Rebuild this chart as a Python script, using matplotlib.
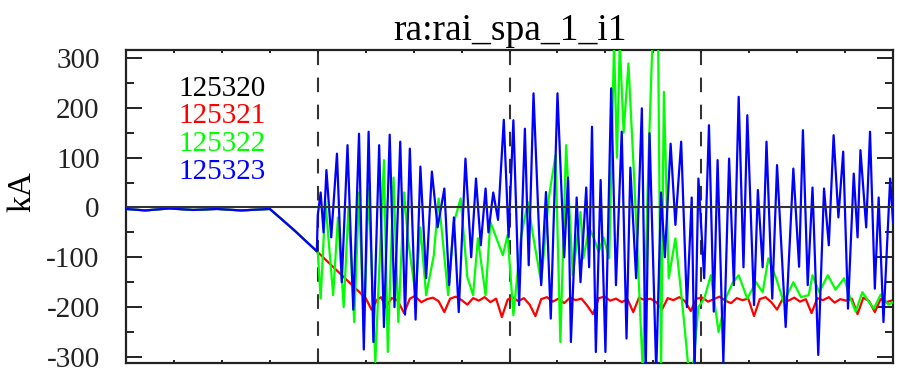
import matplotlib
matplotlib.use('Agg')
import matplotlib.pyplot as plt
from matplotlib.ticker import MultipleLocator

plt.rcParams['font.family'] = ['Liberation Serif', 'DejaVu Serif']
plt.rcParams['axes.unicode_minus'] = False

title = 'ra:rai_spa_1_i1'
shots = ['125320', '125321', '125322', '125323']
colors = ['black', '#ff0000', '#00ff00', '#0000ff']
markers_t = [200, 400, 600]

# flat part + ramp, same for 125321/22/23
pre_t = [0, 20, 45, 70, 95, 120, 150, 175, 199]
pre_v = [-3, -6, -2, -5, -3, -6, -3, -45, -88]

black_t = [0, 800]
black_v = [0, 0]

red_t = [250, 256, 262, 266, 271, 277, 283, 290, 296, 301,
         308, 314, 320, 326, 332, 338, 344, 350, 356, 362,
         368, 374, 380, 386, 392, 398, 403, 409, 415, 421,
         427, 433, 439, 445, 451, 457, 463, 469, 475, 481,
         487, 493, 499, 505, 511, 517, 523, 529, 535, 541,
         547, 553, 559, 565, 571, 577, 583, 589, 595, 601,
         607, 613, 619, 625, 631, 637, 643, 649, 655, 661,
         667, 673, 679, 685, 691, 697, 703, 709, 715, 721,
         727, 733, 739, 745, 751, 757, 763, 769, 775, 781,
         787, 793, 800]
red_v = [-182, -205, -185, -180, -200, -182, -186, -212, -183, -178,
         -190, -184, -181, -188, -210, -183, -179, -186, -195, -182,
         -187, -180, -190, -183, -220, -185, -180, -188, -182, -195,
         -218, -184, -180, -189, -183, -192, -181, -186, -183, -197,
         -214, -182, -179, -187, -183, -190, -184, -210, -181, -186,
         -183, -190, -205, -182, -186, -180, -188, -208, -183, -181,
         -189, -184, -179, -187, -192, -182, -186, -183, -218, -184,
         -180, -190, -205, -183, -187, -181, -189, -184, -212, -182,
         -186, -180, -191, -184, -187, -183, -214, -181, -188, -210,
         -184, -190, -186]

green_t = [200, 203, 208, 216, 221, 227, 232, 238, 243, 248,
           253, 260, 269, 273, 279, 284, 290, 294, 302, 307,
           313, 321, 326, 336, 342, 349, 356, 362, 367, 375,
           380, 393, 398, 404, 412, 419, 425, 433, 441, 448,
           453, 459, 466, 474, 477, 483, 488, 493, 498, 504,
           509, 512, 515, 519, 524, 530, 539, 545, 549, 555,
           558, 561, 566, 573, 581, 587, 592, 597, 603, 610,
           618, 626, 633, 639, 648, 657, 664, 670, 678, 686,
           696, 704, 712, 716, 723, 732, 740, 749, 755, 761,
           768, 775, 780, 787, 795, 800]
green_v = [-90, -183, 11, -176, -20, -200, 0, -230, 30, -250,
           40, -310, 95, -290, 60, -230, 30, -62, -176, -40,
           -176, -96, 18, -176, -30, 18, -140, -176, -62, -176,
           -29, -96, -55, -216, -60, 11, -62, -150, 20, 105,
           -270, 125, -136, -9, -102, -40, -62, -89, -60, -102,
           330, 100, 330, 150, 289, 58, -330, 100, 330, 330,
           -330, 232, -142, -62, -209, -330, -310, -200, -183, -136,
           -250, -180, -150, -136, -183, -150, -170, -102, -142, -190,
           -150, -180, -176, -136, -170, -136, -165, -142, -180, -209,
           -170, -190, -203, -175, -195, -190]

blue_t = [200, 203, 206, 209, 214, 220, 225, 231, 237, 243,
          248, 253, 258, 264, 269, 275, 280, 286, 291, 296,
          302, 307, 313, 319, 325, 332, 337, 342, 347, 354,
          360, 365, 370, 375, 378, 383, 388, 394, 399, 404,
          410, 416, 420, 425, 433, 438, 443, 450, 457, 461,
          464, 470, 474, 480, 483, 486, 490, 495, 500, 506,
          511, 517, 522, 526, 532, 538, 542, 546, 553, 558,
          562, 568, 573, 579, 585, 590, 593, 597, 603, 608,
          613, 617, 623, 629, 634, 639, 644, 648, 655, 659,
          664, 668, 674, 679, 688, 696, 702, 706, 711, 716,
          722, 728, 733, 738, 743, 748, 753, 759, 763, 766,
          772, 776, 781, 785, 790, 797, 800]
blue_v = [-15, 30, -50, 75, -60, 108, -150, 125, -205, 148,
          -285, 152, -270, 125, -240, 146, -200, 132, -215, 118,
          -225, 82, -142, 72, -40, 38, -156, -20, -210, 98,
          -100, 58, -76, 38, -50, 30, -25, 176, -60, 175,
          -196, 158, -116, 229, -156, 31, -223, 229, -100, 60,
          -270, 20, -150, 40, -120, 162, -290, 55, -290, 239,
          -156, 152, -263, 80, -142, 199, -330, 149, -330, 30,
          -100, 128, -35, 132, -200, 20, -330, 58, -142, 165,
          -209, 95, -310, 98, -156, 222, -120, 185, -196, 35,
          -120, 132, -183, 85, -240, 78, -119, 155, -156, 40,
          -296, 38, -76, 145, -20, 112, -203, 68, -60, 115,
          -40, 152, -163, 20, -230, 58, -30]

fig = plt.figure(figsize=(9.2, 3.73), dpi=100)
ax = fig.add_axes([0.137, 0.027, 0.8337, 0.839])

for t in markers_t:
    ax.axvline(t, color='#333333', lw=1.5, ls=(0, (7, 6)), zorder=1)

ax.plot(pre_t + red_t, pre_v + red_v, color=colors[1], lw=1.6, zorder=2)
ax.plot(pre_t + green_t, pre_v + green_v, color=colors[2], lw=1.6, zorder=3)
ax.plot(pre_t + blue_t, pre_v + blue_v, color=colors[3], lw=1.6, zorder=4)
ax.plot(black_t, black_v, color='#333333', lw=1.5, zorder=5)

ax.set_xlim(0, 800)
ax.set_ylim(-312, 316)
ax.xaxis.set_major_locator(MultipleLocator(50))
ax.yaxis.set_major_locator(MultipleLocator(100))
ax.yaxis.set_minor_locator(MultipleLocator(50))
ax.tick_params(which='both', direction='in', top=True, right=True,
               labelbottom=False, width=1.4, colors='#222222')
ax.tick_params(axis='y', which='major', length=11.5, labelsize=21, pad=19)
ax.tick_params(axis='y', which='minor', length=5.8)
ax.tick_params(axis='x', which='major', length=2.5)
for s in ax.spines.values():
    s.set_linewidth(1.6)
    s.set_color('#222222')

ax.set_title(title, fontsize=27, pad=7)
ax.set_ylabel('kA', fontsize=24)
ax.yaxis.set_label_coords(-0.116, 0.546)

for i, name in enumerate(shots):
    ax.text(0.068, 0.876 - i * 0.0885, name, color=colors[i], fontsize=21,
            transform=ax.transAxes, va='center', ha='left')

fig.savefig('out.png', dpi=100)
